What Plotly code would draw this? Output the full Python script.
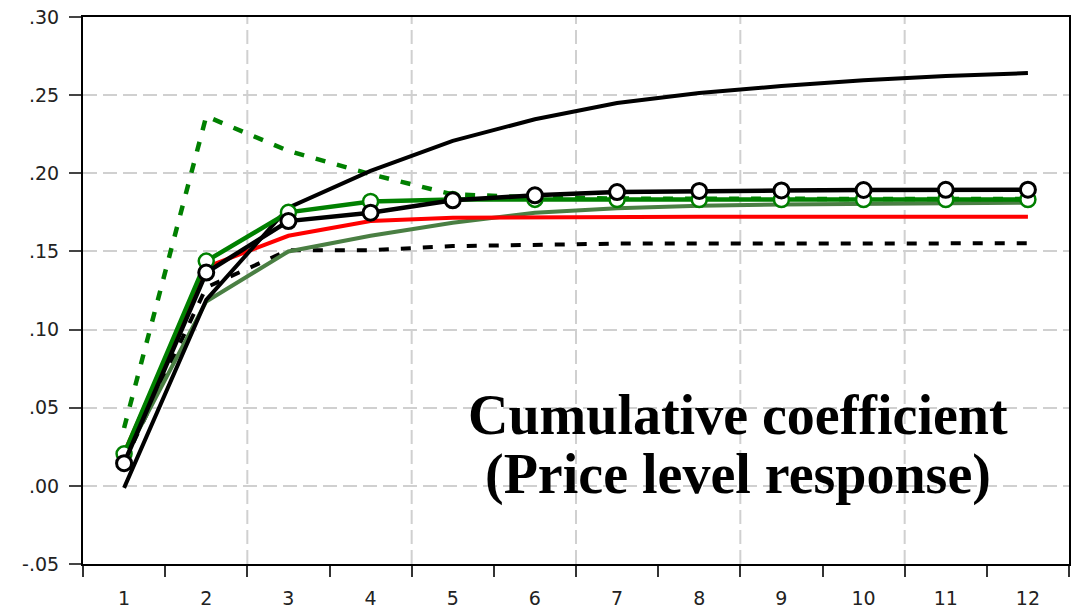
import plotly.graph_objects as go

periods = list(range(1, 13))
period_labels = [str(p) for p in periods]

y_tickvals = [-0.05, 0.0, 0.05, 0.10, 0.15, 0.20, 0.25, 0.30]
y_ticktext = ["-.05", ".00", ".05", ".10", ".15", ".20", ".25", ".30"]

black_circles = [0.0145, 0.1365, 0.1694, 0.1748, 0.1827, 0.1859, 0.1880, 0.1887, 0.1890, 0.1893, 0.1894, 0.1895]
green_circles = [0.0205, 0.1438, 0.1750, 0.1820, 0.1833, 0.1833, 0.1832, 0.1832, 0.1832, 0.1832, 0.1832, 0.1832]
black_upper = [-0.0013, 0.1190, 0.1780, 0.2015, 0.2207, 0.2346, 0.2450, 0.2513, 0.2558, 0.2596, 0.2622, 0.2641]
red_line = [0.0210, 0.1400, 0.1600, 0.1694, 0.1716, 0.1720, 0.1722, 0.1722, 0.1722, 0.1722, 0.1722, 0.1722]
dark_green = [0.0180, 0.1180, 0.1500, 0.1600, 0.1684, 0.1748, 0.1776, 0.1792, 0.1800, 0.1805, 0.1810, 0.1812]
black_dashed = [0.0150, 0.1270, 0.1508, 0.1508, 0.1534, 0.1545, 0.1550, 0.1550, 0.1552, 0.1552, 0.1552, 0.1552]
green_dashed = [0.0370, 0.2365, 0.2143, 0.1994, 0.1865, 0.1846, 0.1838, 0.1836, 0.1835, 0.1835, 0.1835, 0.1835]

title_lines = ["Cumulative coefficient", "(Price level response)"]

fig = go.Figure()

fig.add_trace(go.Scatter(x=periods, y=black_dashed, mode="lines",
                         line=dict(color="black", width=4, dash="10px,12px")))
fig.add_trace(go.Scatter(x=periods, y=dark_green, mode="lines",
                         line=dict(color="#4a7f43", width=4)))
fig.add_trace(go.Scatter(x=periods, y=red_line, mode="lines",
                         line=dict(color="#ff0000", width=4)))
fig.add_trace(go.Scatter(x=periods, y=green_dashed, mode="lines",
                         line=dict(color="#008000", width=4.5, dash="10px,12px")))
fig.add_trace(go.Scatter(x=periods, y=black_upper, mode="lines",
                         line=dict(color="black", width=4)))
fig.add_trace(go.Scatter(x=periods, y=green_circles, mode="lines+markers",
                         line=dict(color="#008000", width=4.5),
                         marker=dict(symbol="circle", size=15, color="white",
                                     line=dict(color="#008000", width=2.5))))
fig.add_trace(go.Scatter(x=periods, y=black_circles, mode="lines+markers",
                         line=dict(color="black", width=4.5),
                         marker=dict(symbol="circle", size=15, color="white",
                                     line=dict(color="black", width=3))))

grid_color = "#d0d0d0"
grid_dash = "14px,6px"

# vertical dashed gridlines every two periods
shapes = []
for gx in [2.5, 4.5, 6.5, 8.5, 10.5]:
    shapes.append(dict(type="line", xref="x", yref="paper", x0=gx, x1=gx, y0=0, y1=1,
                       line=dict(color=grid_color, width=2, dash=grid_dash), layer="below"))

annotations = [
    dict(text=title_lines[0], xref="paper", yref="paper", x=0.664, y=0.2724,
         xanchor="center", yanchor="middle", showarrow=False,
         font=dict(family="Liberation Serif", size=56, color="black", weight="bold")),
    dict(text=title_lines[1], xref="paper", yref="paper", x=0.664, y=0.1645,
         xanchor="center", yanchor="middle", showarrow=False,
         font=dict(family="Liberation Serif", size=56, color="black", weight="bold")),
]

fig.update_layout(
    width=1081, height=608,
    margin=dict(l=83, r=12, t=17, b=44, autoexpand=False),
    paper_bgcolor="white", plot_bgcolor="white",
    showlegend=False,
    shapes=shapes,
    annotations=annotations,
    font=dict(family="DejaVu Sans", size=19, color="#222222"),
    xaxis=dict(
        range=[0.5, 12.5], automargin=False,
        tickmode="array", tickvals=periods, ticktext=period_labels,
        ticks="", showgrid=False, zeroline=False,
        showline=True, linecolor="black", linewidth=2, mirror=True,
        tickfont=dict(size=19, family="DejaVu Sans"),
        ticklabelstandoff=16,
        minor=dict(tick0=0.5, dtick=1, ticks="outside", ticklen=11,
                   tickwidth=1.5, tickcolor="#333333", showgrid=False),
    ),
    yaxis=dict(
        range=[-0.05, 0.30], automargin=False,
        tickmode="array", tickvals=y_tickvals, ticktext=y_ticktext,
        ticks="outside", ticklen=12, tickwidth=2, tickcolor="#444444",
        showgrid=True, gridcolor=grid_color, gridwidth=2, griddash=grid_dash,
        zeroline=False,
        showline=True, linecolor="black", linewidth=2, mirror=True,
        tickfont=dict(size=19, family="DejaVu Sans"),
        ticklabelstandoff=6,
    ),
)

fig.write_html("out.html", config={"displayModeBar": False},
               post_script="document.body.style.margin='0';document.body.style.overflow='hidden';")
